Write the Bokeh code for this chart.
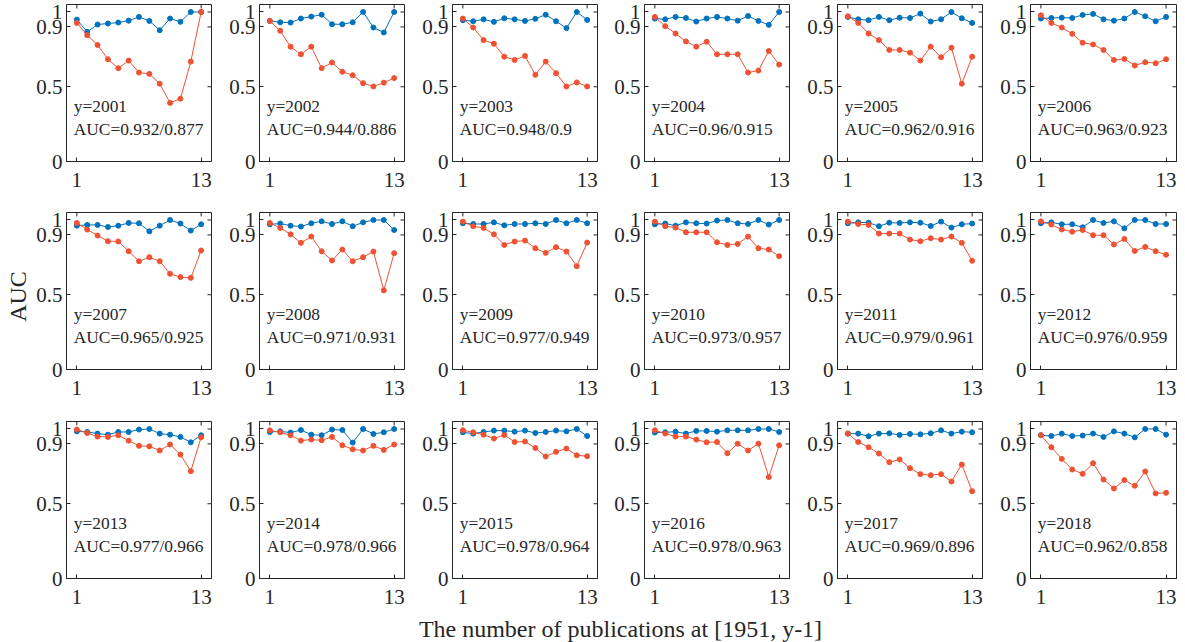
from bokeh.plotting import figure
from bokeh.layouts import row, column
from bokeh.models import Range1d, FixedTicker, Label
from bokeh.embed import file_html
from bokeh.resources import INLINE

x_values = list(range(1, 14))
years = [2001, 2002, 2003, 2004, 2005, 2006, 2007, 2008, 2009,
         2010, 2011, 2012, 2013, 2014, 2015, 2016, 2017, 2018]
auc_blue = [0.932, 0.944, 0.948, 0.96, 0.962, 0.963, 0.965, 0.971, 0.977,
            0.973, 0.979, 0.976, 0.977, 0.978, 0.978, 0.978, 0.969, 0.962]
auc_red = [0.877, 0.886, 0.9, 0.915, 0.916, 0.923, 0.925, 0.931, 0.949,
           0.957, 0.961, 0.959, 0.966, 0.966, 0.964, 0.963, 0.896, 0.858]

blue_2001 = [0.949, 0.867, 0.916, 0.923, 0.929, 0.942, 0.967, 0.940, 0.878, 0.956, 0.934, 1.0, 1.0]
red_2001 = [0.927, 0.845, 0.779, 0.684, 0.624, 0.675, 0.595, 0.586, 0.520, 0.392, 0.420, 0.668, 1.0]
blue_2002 = [0.940, 0.931, 0.929, 0.956, 0.969, 0.982, 0.918, 0.918, 0.931, 1.0, 0.896, 0.863, 1.0]
red_2002 = [0.940, 0.874, 0.768, 0.717, 0.768, 0.624, 0.662, 0.600, 0.577, 0.524, 0.502, 0.527, 0.558]
blue_2003 = [0.945, 0.938, 0.951, 0.934, 0.958, 0.951, 0.940, 0.954, 0.982, 0.938, 0.892, 1.0, 0.947]
red_2003 = [0.956, 0.896, 0.812, 0.788, 0.701, 0.679, 0.706, 0.580, 0.668, 0.591, 0.502, 0.529, 0.502]
blue_2004 = [0.956, 0.951, 0.967, 0.960, 0.936, 0.956, 0.967, 0.956, 0.942, 0.973, 0.940, 0.914, 1.0]
red_2004 = [0.967, 0.905, 0.856, 0.803, 0.768, 0.801, 0.717, 0.717, 0.717, 0.595, 0.608, 0.739, 0.648]
blue_2005 = [0.967, 0.951, 0.945, 0.967, 0.945, 0.962, 0.960, 0.989, 0.936, 0.951, 1.0, 0.958, 0.927]
red_2005 = [0.971, 0.927, 0.856, 0.812, 0.746, 0.746, 0.728, 0.675, 0.768, 0.697, 0.761, 0.520, 0.701]
blue_2006 = [0.956, 0.960, 0.962, 0.960, 0.980, 0.987, 0.951, 0.942, 0.956, 1.0, 0.971, 0.938, 0.967]
red_2006 = [0.978, 0.927, 0.896, 0.854, 0.794, 0.783, 0.746, 0.679, 0.686, 0.642, 0.664, 0.657, 0.684]
blue_2007 = [0.962, 0.967, 0.967, 0.953, 0.962, 0.980, 0.978, 0.924, 0.962, 1.0, 0.976, 0.929, 0.971]
red_2007 = [0.980, 0.936, 0.896, 0.858, 0.856, 0.791, 0.724, 0.751, 0.724, 0.640, 0.618, 0.613, 0.796]
blue_2008 = [0.971, 0.976, 0.962, 0.956, 0.978, 0.991, 0.973, 0.991, 0.958, 0.984, 1.0, 1.0, 0.933]
red_2008 = [0.980, 0.947, 0.904, 0.847, 0.889, 0.791, 0.729, 0.802, 0.724, 0.751, 0.789, 0.529, 0.778]
blue_2009 = [0.978, 0.973, 0.973, 0.984, 0.964, 0.973, 0.973, 0.978, 0.973, 1.0, 0.978, 1.0, 0.978]
red_2009 = [0.989, 0.958, 0.947, 0.904, 0.833, 0.856, 0.862, 0.811, 0.780, 0.818, 0.789, 0.691, 0.849]
blue_2010 = [0.971, 0.976, 0.962, 0.984, 0.978, 0.976, 0.996, 1.0, 0.978, 0.973, 1.0, 0.969, 1.0]
red_2010 = [0.989, 0.958, 0.949, 0.918, 0.918, 0.918, 0.851, 0.833, 0.840, 0.889, 0.811, 0.802, 0.758]
blue_2011 = [0.978, 0.984, 0.982, 0.958, 0.982, 0.980, 0.984, 0.982, 0.960, 0.989, 0.949, 0.971, 0.976]
red_2011 = [0.989, 0.973, 0.967, 0.909, 0.909, 0.909, 0.869, 0.858, 0.878, 0.869, 0.889, 0.847, 0.727]
blue_2012 = [0.978, 0.984, 0.971, 0.971, 0.951, 1.0, 0.980, 0.991, 0.944, 1.0, 1.0, 0.973, 0.973]
red_2012 = [0.991, 0.969, 0.936, 0.922, 0.933, 0.898, 0.898, 0.836, 0.873, 0.793, 0.820, 0.791, 0.767]
blue_2013 = [0.984, 0.980, 0.969, 0.962, 0.980, 0.980, 0.996, 1.0, 0.969, 0.962, 0.947, 0.911, 0.958]
red_2013 = [0.996, 0.973, 0.949, 0.947, 0.958, 0.922, 0.887, 0.884, 0.856, 0.896, 0.829, 0.718, 0.944]
blue_2014 = [0.980, 0.984, 0.976, 0.993, 0.962, 0.958, 0.996, 0.993, 0.909, 1.0, 0.967, 0.978, 1.0]
red_2014 = [0.991, 0.978, 0.958, 0.922, 0.929, 0.924, 0.947, 0.891, 0.864, 0.856, 0.887, 0.860, 0.896]
blue_2015 = [0.978, 0.969, 0.980, 0.989, 0.989, 0.982, 0.989, 0.973, 0.980, 0.989, 0.984, 1.0, 0.953]
red_2015 = [0.991, 0.978, 0.962, 0.936, 0.960, 0.913, 0.916, 0.873, 0.816, 0.847, 0.869, 0.824, 0.818]
blue_2016 = [0.976, 0.978, 0.982, 0.969, 0.987, 0.987, 0.982, 0.991, 0.991, 0.991, 1.0, 1.0, 0.980]
red_2016 = [0.991, 0.969, 0.949, 0.949, 0.929, 0.911, 0.913, 0.838, 0.902, 0.856, 0.902, 0.678, 0.891]
blue_2017 = [0.969, 0.969, 0.951, 0.969, 0.971, 0.960, 0.967, 0.964, 0.971, 0.991, 0.969, 0.982, 0.978]
red_2017 = [0.969, 0.913, 0.878, 0.836, 0.778, 0.796, 0.738, 0.698, 0.691, 0.698, 0.649, 0.762, 0.584]
blue_2018 = [0.958, 0.953, 0.969, 0.953, 0.956, 0.969, 0.947, 0.984, 0.969, 0.944, 1.0, 1.0, 0.962]
red_2018 = [0.958, 0.878, 0.800, 0.729, 0.700, 0.771, 0.662, 0.602, 0.658, 0.620, 0.716, 0.569, 0.573]

x_ticks = [1, 13]
y_ticks = [0, 0.5, 0.9, 1]
y_tick_labels = ["0", "0.5", "0.9", "1"]

blue_series = [blue_2001, blue_2002, blue_2003, blue_2004, blue_2005, blue_2006,
               blue_2007, blue_2008, blue_2009, blue_2010, blue_2011, blue_2012,
               blue_2013, blue_2014, blue_2015, blue_2016, blue_2017, blue_2018]
red_series = [red_2001, red_2002, red_2003, red_2004, red_2005, red_2006,
              red_2007, red_2008, red_2009, red_2010, red_2011, red_2012,
              red_2013, red_2014, red_2015, red_2016, red_2017, red_2018]

FONT = "Liberation Serif"
DARK = "#262626"
BLUE = "#0072BD"
RED = "#EF5233"
X_MIN, X_MAX = 0, 14
Y_MIN, Y_MAX = 0, 1.05

# (top border, frame height, bottom border) per row
row_specs = [(4, 157, 40), (11, 157, 40), (12, 157, 36)]
# (left border, frame width, right border) per column
col_specs = [(34, 145, 4), (44, 145, 4), (44, 145, 4), (43, 145, 4), (44, 145, 4), (44, 146, 4)]
YLAB_W = 32
XLAB_H = 28


def style_axis(ax, ticks, standoff):
    ax.ticker = FixedTicker(ticks=ticks)
    ax.minor_tick_line_color = None
    ax.major_tick_in = 4
    ax.major_tick_out = 0
    ax.axis_line_color = DARK
    ax.major_tick_line_color = DARK
    ax.major_label_text_font = FONT
    ax.major_label_text_color = DARK
    ax.major_label_text_font_size = "21px"
    ax.major_label_standoff = standoff


def make_panel(i, top, fh, bottom, left, fw, right):
    p = figure(frame_width=fw, frame_height=fh,
               x_range=Range1d(X_MIN, X_MAX), y_range=Range1d(Y_MIN, Y_MAX),
               output_backend="svg", toolbar_location=None,
               min_border_left=left, min_border_right=right,
               min_border_top=top, min_border_bottom=bottom)
    p.xgrid.visible = False
    p.ygrid.visible = False
    p.outline_line_color = DARK
    p.background_fill_color = "white"
    p.border_fill_color = "white"

    style_axis(p.xaxis[0], x_ticks, 11)
    style_axis(p.yaxis[0], y_ticks, 4)
    p.yaxis[0].major_label_overrides = {t: s for t, s in zip(y_ticks, y_tick_labels)}

    # mirrored inward tick marks on the right and top edges of the box
    p.scatter([X_MAX] * len(y_ticks), y_ticks, marker="dash", size=8,
              line_color=DARK, line_width=1)
    p.scatter(x_ticks, [Y_MAX] * len(x_ticks), marker="dash", size=8, angle=1.5707963,
              line_color=DARK, line_width=1)

    p.line(x_values, blue_series[i], line_color=BLUE, line_width=1)
    p.scatter(x_values, blue_series[i], size=5, fill_color=BLUE, line_color=BLUE)
    p.line(x_values, red_series[i], line_color=RED, line_width=1)
    p.scatter(x_values, red_series[i], size=5, fill_color=RED, line_color=RED)

    p.add_layout(Label(x=0.7, y=0.37, text=f"y={years[i]}",
                       text_font=FONT, text_font_size="17.4px",
                       text_color=DARK, text_baseline="middle"))
    p.add_layout(Label(x=0.7, y=0.215,
                       text=f"AUC={auc_blue[i]:g}/{auc_red[i]:g}",
                       text_font=FONT, text_font_size="17.4px",
                       text_color=DARK, text_baseline="middle"))
    return p


rows = []
for r, (top, fh, bottom) in enumerate(row_specs):
    figs = []
    for c, (left, fw, right) in enumerate(col_specs):
        figs.append(make_panel(r * 6 + c, top, fh, bottom, left, fw, right))
    rows.append(row(*figs))

grid_h = sum(t + h + b for t, h, b in row_specs)
grid_w = YLAB_W + sum(l + w + r for l, w, r in col_specs)

ylab = figure(width=YLAB_W, height=grid_h, x_range=Range1d(0, YLAB_W), y_range=Range1d(0, grid_h),
              output_backend="svg", toolbar_location=None,
              x_axis_type=None, y_axis_type=None, min_border=0)
ylab.outline_line_color = None
ylab.xgrid.visible = False
ylab.ygrid.visible = False
ylab.add_layout(Label(x=17, y=grid_h - 296, text="AUC", angle=1.5707963,
                      text_font=FONT, text_font_size="24px", text_color=DARK,
                      text_align="center", text_baseline="middle"))

xlab = figure(width=grid_w, height=XLAB_H, x_range=Range1d(0, grid_w), y_range=Range1d(0, XLAB_H),
              output_backend="svg", toolbar_location=None,
              x_axis_type=None, y_axis_type=None, min_border=0)
xlab.outline_line_color = None
xlab.xgrid.visible = False
xlab.ygrid.visible = False
xlab.add_layout(Label(x=620, y=14, text="The number of publications at [1951, y-1]",
                      text_font=FONT, text_font_size="24px", text_color=DARK,
                      text_align="center", text_baseline="middle"))

layout = column(row(ylab, column(*rows)), xlab)

open("out.html", "w").write(file_html(layout, INLINE))
